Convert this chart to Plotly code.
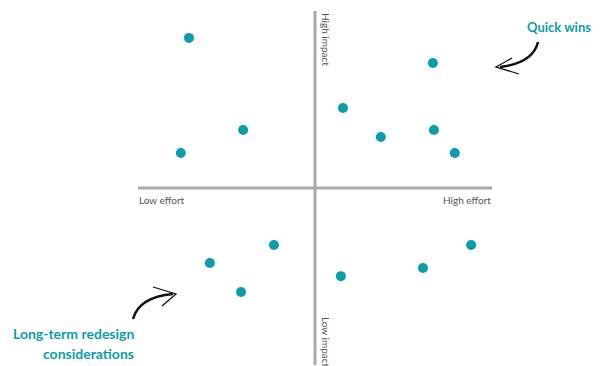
import plotly.graph_objects as go

# Data (effort 0-100, impact 0-100)
effort = [14.4, 83.3, 57.9, 29.7, 68.6, 83.6, 12.1, 89.5, 38.4, 20.3, 94.1, 80.5, 57.3, 29.1]
impact = [92.4, 85.3, 72.6, 66.4, 64.4, 66.4, 59.9, 59.9, 33.9, 28.8, 33.9, 27.4, 25.1, 20.6]
axis_labels = ["High impact", "Low impact", "Low effort", "High effort"]
callouts = ["Quick wins", "Long-term redesign", "considerations"]

W, H = 600, 366
TEAL = "#0b9dab"
GREY = "#a9a9a9"
TXT = "#555555"

# pixel scale: data unit -> px
S = 3.54
X0 = 138  # pixel of effort=0
Y0 = 365  # pixel of impact=0
xr = [(0 - X0) / S, (W - X0) / S]
yr = [(Y0 - H) / S, (Y0 - 0) / S]

def px(x):
    return x / W

def py(y):
    return 1 - y / H

fig = go.Figure()
fig.add_trace(go.Scatter(
    x=effort, y=impact, mode="markers",
    marker=dict(color=TEAL, size=10, line=dict(width=0)),
    hoverinfo="x+y", showlegend=False))

shapes = [
    # quadrant axes
    dict(type="line", xref="x", yref="y", x0=0, x1=100, y0=50, y1=50,
         line=dict(color=GREY, width=3)),
    dict(type="line", xref="x", yref="y", x0=50, x1=50, y0=0, y1=100,
         line=dict(color=GREY, width=3)),
]

# Quick wins arrow
qa = f"M {px(538)},{py(42)} Q {px(533)},{py(63)} {px(500)},{py(67)}"
qh = f"M {px(512)},{py(58)} L {px(496)},{py(67)} L {px(519)},{py(74)}"
# Long-term arrow
la = f"M {px(133)},{py(319)} Q {px(139)},{py(297)} {px(173)},{py(294)}"
lh = f"M {px(153)},{py(287)} L {px(176)},{py(294)} L {px(162)},{py(306)}"
for p, w in [(qa, 2.5), (qh, 1.3), (la, 2.5), (lh, 1.3)]:
    shapes.append(dict(type="path", xref="paper", yref="paper", path=p,
                       line=dict(color="#111111", width=w)))

annotations = [
    dict(text=axis_labels[0], x=px(326), y=py(39), xref="paper", yref="paper",
         textangle=90, showarrow=False, font=dict(size=10, color=TXT),
         xanchor="center", yanchor="middle"),
    dict(text=axis_labels[1], x=px(326), y=py(342), xref="paper", yref="paper",
         textangle=90, showarrow=False, font=dict(size=10, color=TXT),
         xanchor="center", yanchor="middle"),
    dict(text=axis_labels[2], x=px(137), y=py(200), xref="paper", yref="paper",
         showarrow=False, font=dict(size=10, color=TXT),
         xanchor="left", yanchor="middle"),
    dict(text=axis_labels[3], x=px(493), y=py(200), xref="paper", yref="paper",
         showarrow=False, font=dict(size=10, color=TXT),
         xanchor="right", yanchor="middle"),
    dict(text="<b>" + callouts[0] + "</b>", x=px(593), y=py(27), xref="paper", yref="paper",
         showarrow=False, font=dict(size=13, color=TEAL),
         xanchor="right", yanchor="middle"),
    dict(text="<b>" + callouts[1] + "</b>", x=px(136), y=py(333), xref="paper", yref="paper",
         showarrow=False, font=dict(size=14, color=TEAL),
         xanchor="right", yanchor="middle"),
    dict(text="<b>" + callouts[2] + "</b>", x=px(136), y=py(353), xref="paper", yref="paper",
         showarrow=False, font=dict(size=14, color=TEAL),
         xanchor="right", yanchor="middle"),
]

fig.update_layout(
    width=W, height=H,
    margin=dict(l=0, r=0, t=0, b=0),
    paper_bgcolor="white", plot_bgcolor="white",
    font=dict(family="Lato, Open Sans, sans-serif"),
    xaxis=dict(range=xr, visible=False, fixedrange=True),
    yaxis=dict(range=yr, visible=False, fixedrange=True),
    shapes=shapes, annotations=annotations,
    showlegend=False,
)
fig.write_html("out.html", config={"displayModeBar": False},
               post_script="document.body.style.margin='0';document.body.style.overflow='hidden';")
